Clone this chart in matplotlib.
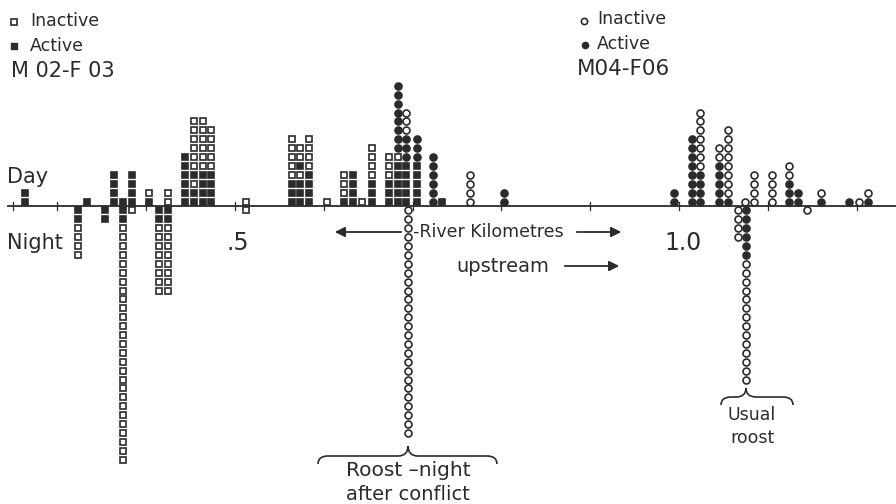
# Roost locations along the river, day vs night, two pairs
import numpy as np
import matplotlib.pyplot as plt
from matplotlib.path import Path
from matplotlib.patches import PathPatch

plt.rcParams['font.family'] = ['DejaVu Sans']

# stacks read outward from the line:
# S = active square, s = inactive square (M02-F03)
# O = active circle, o = inactive circle (M04-F06)
day_km = [0.2635, 0.3333, 0.3637, 0.3739, 0.3840, 0.4032, 0.4245, 0.4437,
          0.4538, 0.4640, 0.4730, 0.5124, 0.5642, 0.5732, 0.5833, 0.6036,
          0.6227, 0.6329, 0.6430, 0.6543, 0.6734, 0.6836, 0.6926, 0.7050,
          0.7230, 0.7331, 0.7646, 0.8029, 0.9944, 1.0146, 1.0236, 1.0450,
          1.0552, 1.0743, 1.0845, 1.1047, 1.1239, 1.1340, 1.1599, 1.1914,
          1.2027, 1.2128]
day_code = ['SS', 'S', 'SSSS', 'S', 'SSSS', 'Ss', 'ss', 'SSSSSS',
            'SSsSssssss', 'SSSSssssss', 'SSSSsssss', 's', 'SSSsssss', 'SSSsSss', 'SSSSssss', 's',
            'Ssss', 'SSSS', 's', 'SSSssss', 'SSSsss', 'SSSSSsOOOOOOOO', 'SSSSSOOOooo', 'SSSSSOOO',
            'OOOOOO', 'S', 'oooo', 'OO', 'OO', 'OOOOOOOO', 'OOOOooooooo', 'OOOOOoo',
            'Ooooooooo', 'o', 'oooo', 'oooo', 'OOOoo', 'OO', 'Oo', 'O',
            'o', 'Oo']

night_km = [0.3232, 0.3536, 0.3739, 0.3840, 0.4144, 0.4245, 0.5124, 0.6948,
            1.0664, 1.0755, 1.1441]
night_code = ['SSssss', 'SS', 'SS' + 's' * 27, 's', 'SS' + 's' * 8, 'SS' + 's' * 8, 's', 'o' * 26,
              'oooo', 'OOOOOO' + 'o' * 14, 'o']

tick_km = [0.25, 0.3, 0.4, 0.5, 0.6, 0.7, 0.8, 0.9, 1.0, 1.1, 1.2]

dark = '#2b2b2b'

# pixel -> data helper for the annotations
X0, KM_PX, Y0, U_PX = 235, 888, 206, 8.9
def px(x, y):
    return 0.5 + (x - X0) / KM_PX, (Y0 - y) / U_PX

fig = plt.figure(figsize=(8.96, 5.04), dpi=100)
ax = fig.add_axes([0, 0, 1, 1])
ax.set_xlim(px(0, 0)[0], px(896, 0)[0])
ax.set_ylim(px(0, 504)[1], px(0, 0)[1])
ax.axis('off')

styles = {'S': ('s', dark, 4.3), 's': ('s', 'white', 4.3),
          'O': ('o', dark, 5.0), 'o': ('o', 'white', 5.0)}

def stack(kms, codes, sign):
    pts = {k: ([], []) for k in styles}
    for km, code in zip(kms, codes):
        for i, c in enumerate(code):
            pts[c][0].append(km)
            pts[c][1].append(sign * (i + 0.5))
    for c, (xs, ys) in pts.items():
        m, fc, ms = styles[c]
        ax.plot(xs, ys, ls='none', marker=m, ms=ms, mfc=fc, mec=dark, mew=1.2, zorder=3)

stack(day_km, day_code, 1)
stack(night_km, night_code, -1)

# the river line and ticks
ax.plot([px(8, 0)[0], px(896, 0)[0]], [0, 0], color=dark, lw=1.3, zorder=2)
for t in tick_km:
    ax.plot([t, t], [-0.5, 0.5], color=dark, lw=0.9, zorder=2)

def label(x, y, s, size, ha='left'):
    ax.text(*px(x, y), s, ha=ha, va='center', fontsize=size, color=dark)

# legends
ax.plot(*px(14, 22), marker='s', ms=4.0, mfc='white', mec=dark, mew=1.2)
ax.plot(*px(14, 46), marker='s', ms=4.0, mfc=dark, mec=dark)
label(30, 21, 'Inactive', 12.5)
label(30, 46, 'Active', 12.5)
label(11, 71, 'M 02-F 03', 15)
ax.plot(*px(584, 21), marker='o', ms=4.5, mfc='white', mec=dark, mew=1.2)
ax.plot(*px(585, 45), marker='o', ms=4.5, mfc=dark, mec=dark)
label(597, 19, 'Inactive', 12.5)
label(597, 44, 'Active', 12.5)
label(577, 69, 'M04-F06', 15.5)

label(7, 177, 'Day', 15)
label(7, 243, 'Night', 15)
label(226, 243, '.5', 17)
label(664, 243, '1.0', 17)

# axis caption with arrows
arrow = dict(arrowstyle='-|>', color=dark, lw=1.3, mutation_scale=15)
ax.annotate('', xy=px(332, 232), xytext=px(404, 232), arrowprops=arrow)
label(413, 232, '-River Kilometres', 12.5)
ax.annotate('', xy=px(624, 232), xytext=px(574, 232), arrowprops=arrow)
label(456, 266, 'upstream', 14)
ax.annotate('', xy=px(622, 266), xytext=px(562, 266), arrowprops=arrow)

def brace(x0, x1, xt, yb, ym, yt):
    r = 10
    verts = [px(x0, yb), px(x0, ym), px(x0 + r, ym), px(xt - r, ym), px(xt, ym), px(xt, yt),
             px(xt, ym), px(xt + r, ym), px(x1 - r, ym), px(x1, ym), px(x1, yb)]
    codes = [Path.MOVETO, Path.CURVE3, Path.CURVE3, Path.LINETO, Path.CURVE3, Path.CURVE3,
             Path.CURVE3, Path.CURVE3, Path.LINETO, Path.CURVE3, Path.CURVE3]
    ax.add_patch(PathPatch(Path(verts, codes), fill=False, ec=dark, lw=1.2))

brace(318, 497, 408, 464, 456, 446)
label(408, 470, 'Roost \u2013night', 14.5, ha='center')
label(408, 494, 'after conflict', 14, ha='center')

brace(721, 793, 746, 405, 397, 388)
label(752, 415, 'Usual', 12.5, ha='center')
label(752, 438, 'roost', 12.5, ha='center')

plt.savefig('out.png', dpi=100)
